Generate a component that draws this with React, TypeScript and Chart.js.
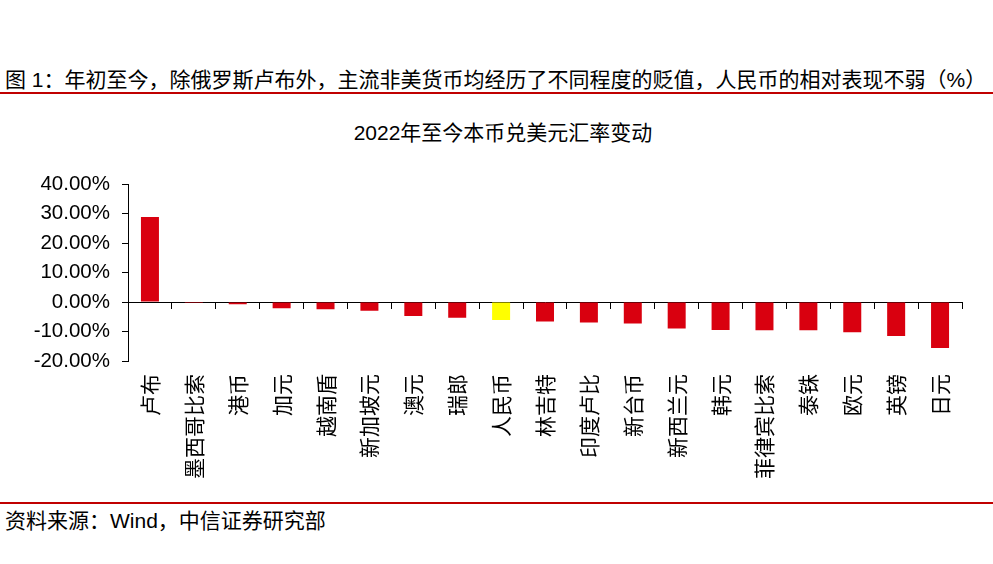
import React, { useEffect, useRef } from "react";
import { Chart, registerables } from "chart.js";

Chart.register(...registerables);

const categories = [
  "卢布", "墨西哥比索", "港币", "加元", "越南盾", "新加坡元", "澳元", "瑞郎", "人民币",
  "林吉特", "印度卢比", "新台币", "新西兰元", "韩元", "菲律宾比索", "泰铢", "欧元", "英镑", "日元",
];
const changePct = [
  28.9, -0.3, -0.7, -2.1, -2.4, -2.9, -4.7, -5.3, -6.1,
  -6.6, -6.9, -7.3, -9.0, -9.5, -9.6, -9.6, -10.2, -11.5, -15.6,
];
const highlight = "人民币";
const yTicks = [-20, -10, 0, 10, 20, 30, 40];

const RED = "#D9000F";
const YELLOW = "#FFFF00";
const DARKRED = "#C00000";
const FONT = '"Liberation Sans", Arial, "Noto Sans CJK SC", sans-serif';

export default function App() {
  const ref = useRef<HTMLCanvasElement | null>(null);

  useEffect(() => {
    if (!ref.current) return;
    const chart = new Chart(ref.current, {
      type: "bar",
      data: {
        labels: categories,
        datasets: [
          {
            data: changePct,
            backgroundColor: categories.map((c) => (c === highlight ? YELLOW : RED)),
            borderWidth: 0,
            barPercentage: 0.41,
            categoryPercentage: 1,
          },
        ],
      },
      options: {
        animation: false,
        responsive: false,
        maintainAspectRatio: false,
        layout: { padding: { top: 20, right: 31, left: 0, bottom: 0 } },
        plugins: { legend: { display: false }, tooltip: { enabled: false }, title: { display: false } },
        scales: {
          x: {
            type: "category",
            position: "bottom",
            grid: { display: false, drawTicks: false },
            border: { display: false },
            ticks: {
              autoSkip: false,
              maxRotation: 90,
              minRotation: 90,
              padding: 13,
              color: "#000",
              font: { family: '"Noto Sans CJK SC", sans-serif', size: 21 },
            },
            afterFit: (s: any) => {
              s.height = 139;
            },
          },
          xz: {
            type: "category",
            axis: "x",
            position: { y: 0 },
            offset: true,
            grid: {
              display: true,
              drawOnChartArea: false,
              drawTicks: true,
              tickLength: 6,
              offset: true,
              color: "#000",
            },
            border: { display: true, color: "#000", width: 1 },
            ticks: { display: false },
          } as any,
          y: {
            min: -20,
            max: 40,
            afterBuildTicks: (s: any) => {
              s.ticks = yTicks.map((v) => ({ value: v }));
            },
            grid: { drawOnChartArea: false, drawTicks: true, tickLength: 6, color: "#000" },
            border: { display: true, color: "#000", width: 1 },
            ticks: {
              padding: 12,
              color: "#000",
              font: { family: FONT, size: 20.5 },
              callback: (v: any) => Number(v).toFixed(2) + "%",
            },
            afterFit: (s: any) => {
              s.width = 128;
            },
          },
        },
      } as any,
    });
    return () => chart.destroy();
  }, []);

  return (
    <div
      style={{
        position: "absolute",
        left: 0,
        top: 0,
        width: 993,
        height: 564,
        background: "#fff",
        overflow: "hidden",
        fontFamily: FONT,
        color: "#000",
      }}
    >
      <div
        style={{
          position: "absolute",
          left: 5,
          top: 67,
          fontSize: 21,
          lineHeight: "26px",
          whiteSpace: "nowrap",
        }}
      >
        图 1：年初至今，除俄罗斯卢布外，主流非美货币均经历了不同程度的贬值，人民币的相对表现不弱（%）
      </div>
      <div style={{ position: "absolute", left: 0, top: 92, width: 993, height: 2, background: DARKRED }} />
      <div
        style={{
          position: "absolute",
          left: 303,
          width: 400,
          top: 120,
          textAlign: "center",
          fontSize: 21,
          lineHeight: "26px",
          whiteSpace: "nowrap",
        }}
      >
        2022年至今本币兑美元汇率变动
      </div>
      <canvas
        ref={ref}
        width={993}
        height={340}
        style={{ position: "absolute", left: 0, top: 160, width: 993, height: 340 }}
      />
      <div style={{ position: "absolute", left: 0, top: 502, width: 993, height: 2, background: DARKRED }} />
      <div
        style={{
          position: "absolute",
          left: 5,
          top: 508,
          fontSize: 21,
          lineHeight: "26px",
          whiteSpace: "nowrap",
        }}
      >
        资料来源：Wind，中信证券研究部
      </div>
    </div>
  );
}
